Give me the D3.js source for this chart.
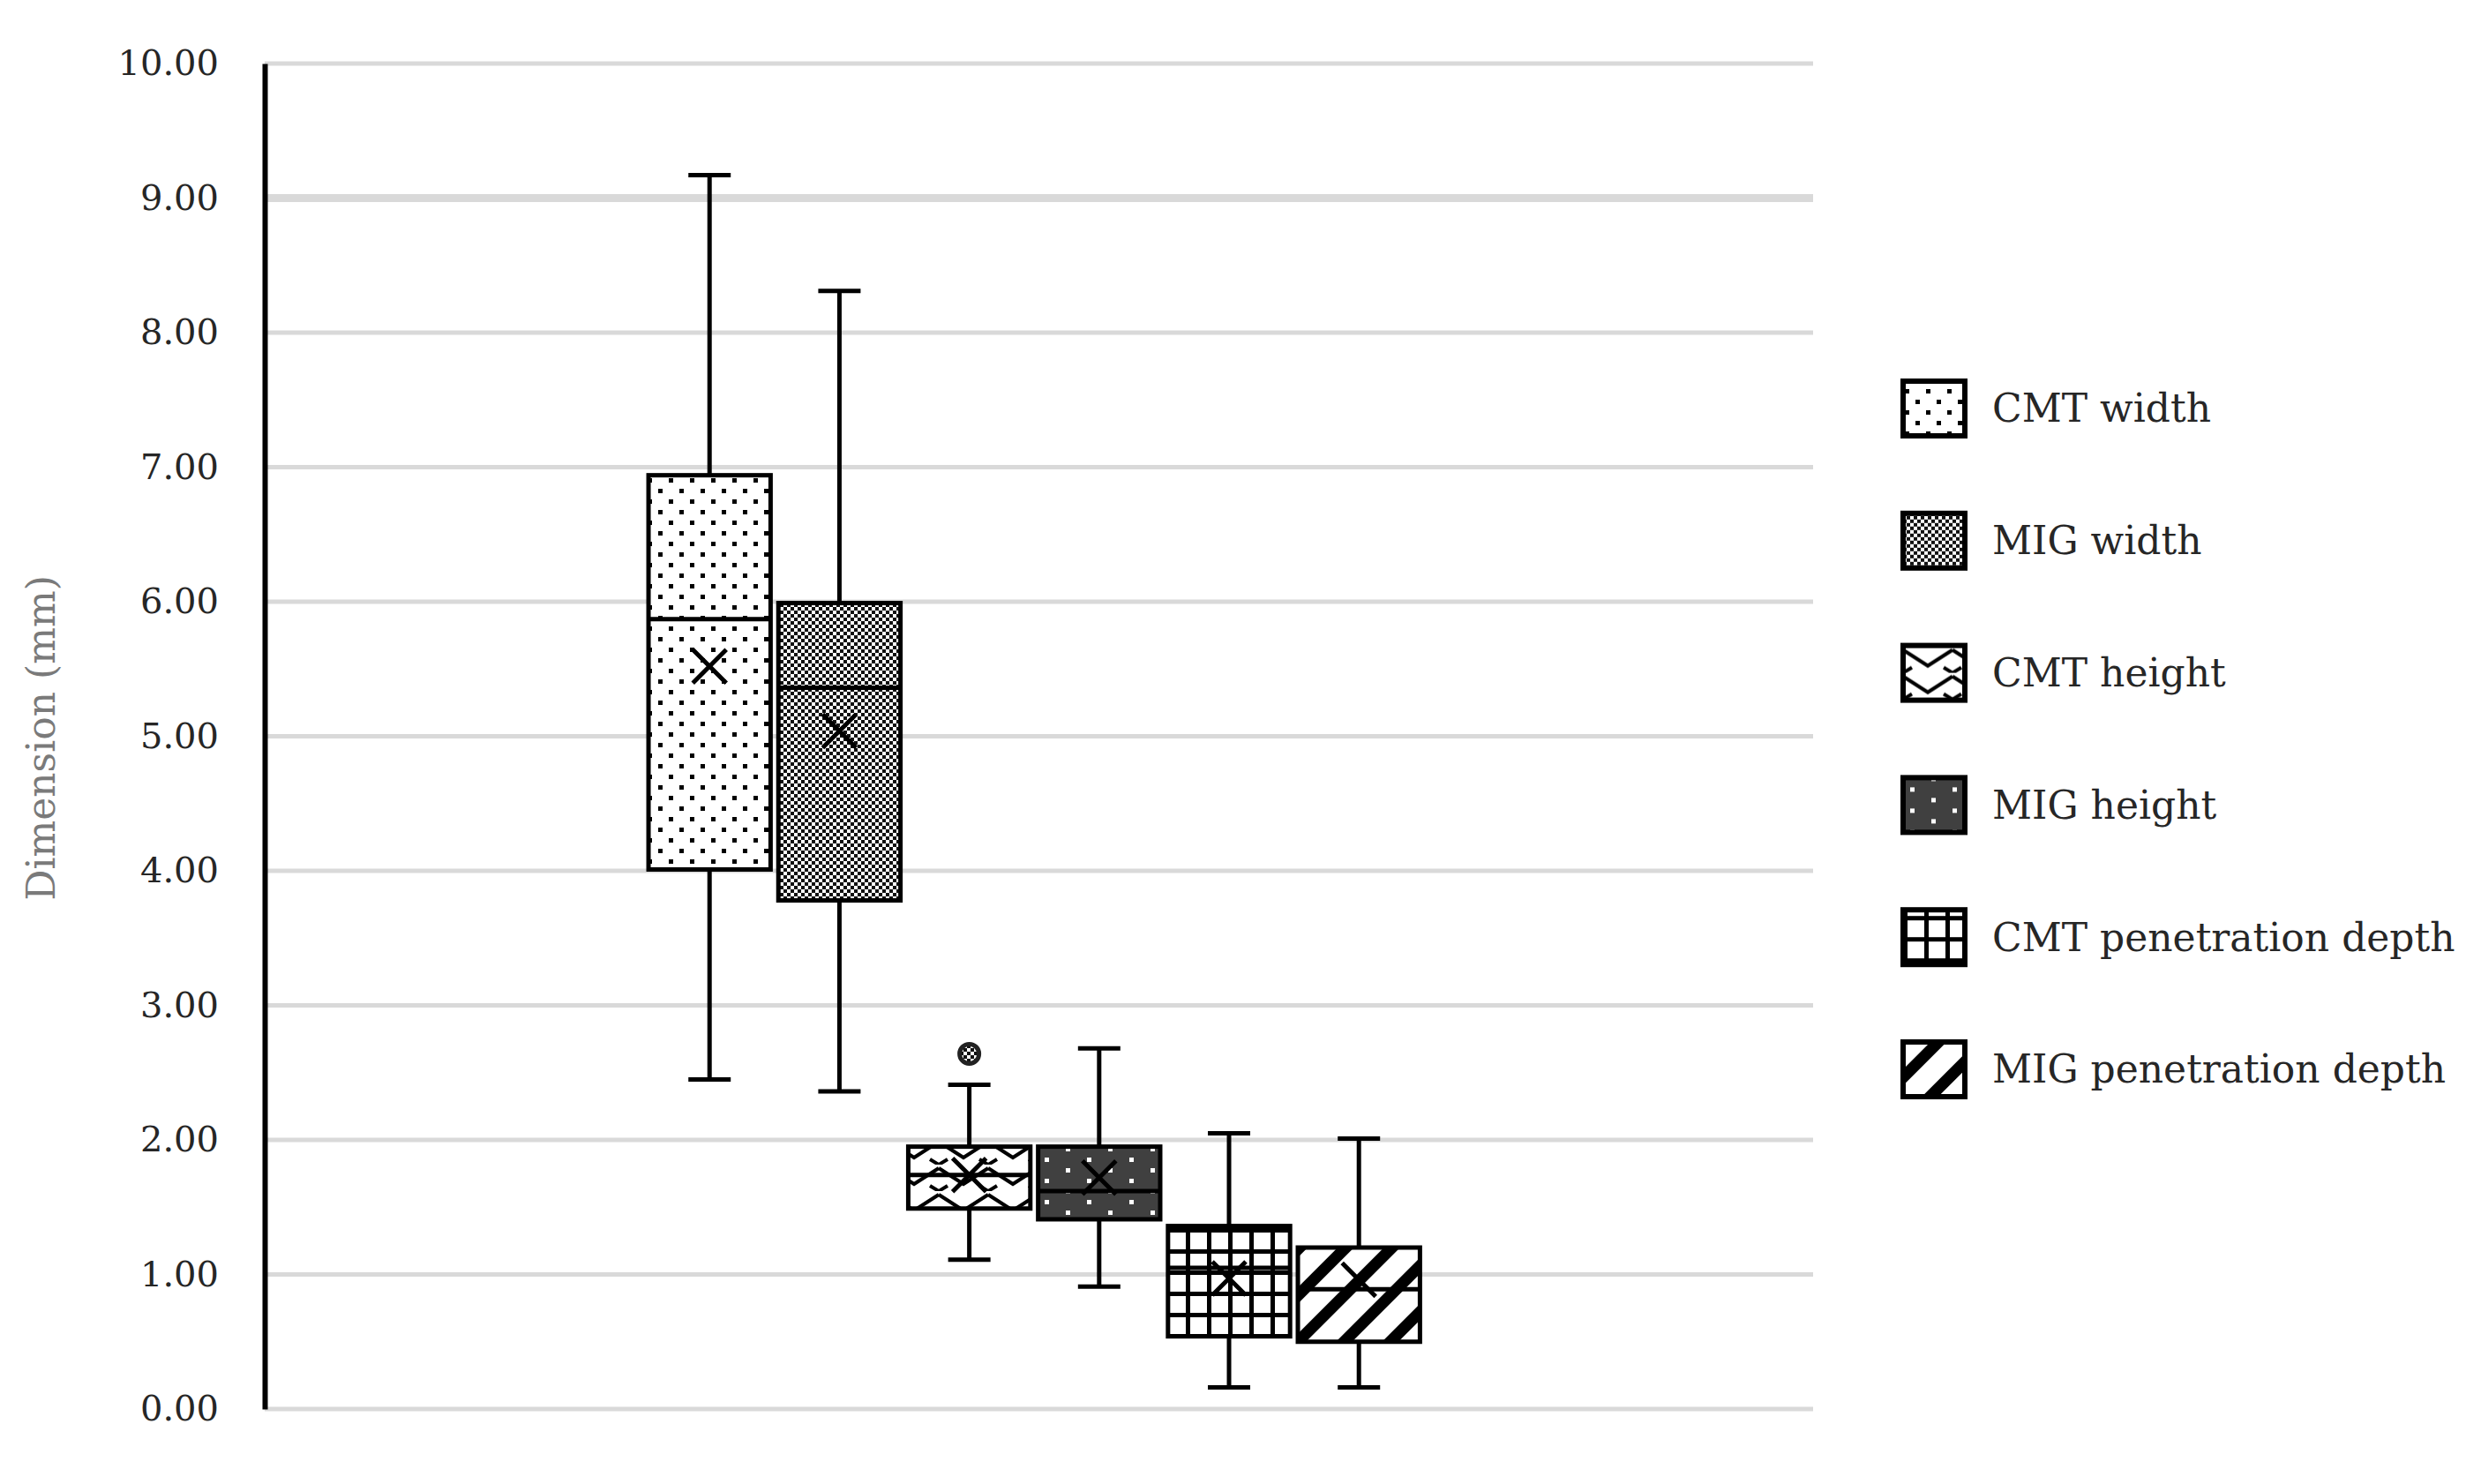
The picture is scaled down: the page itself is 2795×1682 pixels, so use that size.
<!DOCTYPE html>
<html>
<head>
<meta charset="utf-8">
<script src="https://cdn.jsdelivr.net/npm/d3@7"></script>
<style>
  html, body { margin: 0; padding: 0; background: #fff; }
  svg { display: block; }
</style>
</head>
<body>
<div id="chart"></div>
<script>
var w = 2795,
    h = 1682;

// data
var series = ["CMT width", "MIG width", "CMT height", "MIG height",
              "CMT penetration depth", "MIG penetration depth"];
var minVals    = [2.45, 2.36, 1.11, 0.91, 0.16, 0.16];
var q1Vals     = [4.01, 3.78, 1.49, 1.41, 0.54, 0.50];
var medianVals = [5.87, 5.36, 1.74, 1.62, 1.05, 0.89];
var q3Vals     = [6.94, 5.99, 1.95, 1.95, 1.36, 1.20];
var maxVals    = [9.17, 8.31, 2.41, 2.68, 2.05, 2.01];
var meanVals   = [5.52, 5.04, 1.74, 1.72, 0.97, 0.96];
var outliers   = [[], [], [2.64], [], [], []];
var yTicks     = [0, 1, 2, 3, 4, 5, 6, 7, 8, 9, 10];
var patterns   = ["pDots", "pChecker", "pZigzag", "pDarkDots", "pGrid", "pStripes"];

var svg = d3.select("#chart")
            .append("svg")
            .attr("width", w)
            .attr("height", h);

// --- fill patterns ---
var defs = svg.append("defs");

var p1 = defs.append("pattern").attr("id", "pDots")
             .attr("patternUnits", "userSpaceOnUse").attr("width", 24).attr("height", 24);
p1.append("rect").attr("width", 24).attr("height", 24).attr("fill", "#fff");
p1.append("rect").attr("x", 2).attr("y", 2).attr("width", 5).attr("height", 5).attr("fill", "#000");
p1.append("rect").attr("x", 14).attr("y", 14).attr("width", 5).attr("height", 5).attr("fill", "#000");

var p2 = defs.append("pattern").attr("id", "pChecker")
             .attr("patternUnits", "userSpaceOnUse").attr("width", 8).attr("height", 8);
p2.append("rect").attr("width", 8).attr("height", 8).attr("fill", "#fff");
p2.append("rect").attr("width", 4).attr("height", 4).attr("fill", "#111");
p2.append("rect").attr("x", 4).attr("y", 4).attr("width", 4).attr("height", 4).attr("fill", "#111");

var p3 = defs.append("pattern").attr("id", "pZigzag")
             .attr("patternUnits", "userSpaceOnUse").attr("width", 56).attr("height", 30);
p3.append("rect").attr("width", 56).attr("height", 30).attr("fill", "#fff");
p3.append("path").attr("d", "M0,4 L28,22 L56,4 M0,30 L10,24 M46,24 L56,30")
  .attr("fill", "none").attr("stroke", "#000").attr("stroke-width", 4);

var p4 = defs.append("pattern").attr("id", "pDarkDots")
             .attr("patternUnits", "userSpaceOnUse").attr("width", 48).attr("height", 24);
p4.append("rect").attr("width", 48).attr("height", 24).attr("fill", "#404040");
p4.append("rect").attr("x", 8).attr("y", 4).attr("width", 5).attr("height", 5).attr("fill", "#fff");
p4.append("rect").attr("x", 32).attr("y", 16).attr("width", 5).attr("height", 5).attr("fill", "#fff");

var p5 = defs.append("pattern").attr("id", "pGrid")
             .attr("patternUnits", "userSpaceOnUse").attr("width", 24).attr("height", 24);
p5.append("rect").attr("width", 24).attr("height", 24).attr("fill", "#fff");
p5.append("rect").attr("width", 5).attr("height", 24).attr("fill", "#000");
p5.append("rect").attr("width", 24).attr("height", 5).attr("fill", "#000");

var p6 = defs.append("pattern").attr("id", "pStripes")
             .attr("patternUnits", "userSpaceOnUse").attr("width", 37).attr("height", 37)
             .attr("patternTransform", "rotate(45)");
p6.append("rect").attr("width", 37).attr("height", 37).attr("fill", "#fff");
p6.append("rect").attr("width", 13).attr("height", 37).attr("fill", "#000");

// --- scales ---
var plotLeft = 300, plotRight = 2055, plotTop = 72, plotBottom = 1597;

var y = d3.scaleLinear()
          .domain([0, 10])
          .range([plotBottom, plotTop]);

var xGroup = d3.scaleBand()
               .domain(["all"])
               .range([plotLeft, plotRight])
               .paddingOuter(0.5036)
               .paddingInner(0)
               .align(0.494);

var x = d3.scaleBand()
          .domain(series)
          .range([xGroup("all"), xGroup("all") + xGroup.bandwidth()])
          .paddingInner(0.06)
          .paddingOuter(0);

// --- grid lines ---
svg.append("g")
   .selectAll("line")
   .data(yTicks)
   .enter().append("line")
   .attr("x1", plotLeft)
   .attr("x2", plotRight)
   .attr("y1", function(d) { return y(d); })
   .attr("y2", function(d) { return y(d); })
   .attr("stroke", "#d9d9d9")
   .attr("stroke-width", function(d) { return d === 9 ? 9 : 5; });

// --- y axis ---
var yAxis = svg.append("g")
               .attr("transform", "translate(" + plotLeft + ",0)")
               .call(d3.axisLeft(y)
                       .tickValues(yTicks)
                       .tickFormat(d3.format(".2f"))
                       .tickSize(0)
                       .tickPadding(52));
yAxis.select(".domain").attr("stroke", "#000").attr("stroke-width", 6);
yAxis.selectAll("text")
     .attr("font-family", "'DejaVu Serif', serif")
     .attr("font-size", "40px")
     .attr("fill", "#262626");

svg.append("text")
   .attr("transform", "translate(62," + ((plotTop + plotBottom) / 2 + 2) + ") rotate(-90)")
   .attr("text-anchor", "middle")
   .attr("font-family", "'DejaVu Serif', serif")
   .attr("font-size", "44px")
   .attr("fill", "#7a7a7a")
   .text("Dimension (mm)");

// --- box plots ---
var capW = 48;
var boxes = svg.append("g")
               .selectAll("g")
               .data(series)
               .enter().append("g");

// whiskers
boxes.append("line")
     .attr("x1", function(d) { return x(d) + x.bandwidth() / 2; })
     .attr("x2", function(d) { return x(d) + x.bandwidth() / 2; })
     .attr("y1", function(d, i) { return y(maxVals[i]); })
     .attr("y2", function(d, i) { return y(minVals[i]); })
     .attr("stroke", "#000")
     .attr("stroke-width", 5);

boxes.append("line")
     .attr("x1", function(d) { return x(d) + x.bandwidth() / 2 - capW / 2; })
     .attr("x2", function(d) { return x(d) + x.bandwidth() / 2 + capW / 2; })
     .attr("y1", function(d, i) { return y(maxVals[i]); })
     .attr("y2", function(d, i) { return y(maxVals[i]); })
     .attr("stroke", "#000")
     .attr("stroke-width", 5);

boxes.append("line")
     .attr("x1", function(d) { return x(d) + x.bandwidth() / 2 - capW / 2; })
     .attr("x2", function(d) { return x(d) + x.bandwidth() / 2 + capW / 2; })
     .attr("y1", function(d, i) { return y(minVals[i]); })
     .attr("y2", function(d, i) { return y(minVals[i]); })
     .attr("stroke", "#000")
     .attr("stroke-width", 5);

// boxes
boxes.append("rect")
     .attr("x", function(d) { return x(d); })
     .attr("y", function(d, i) { return y(q3Vals[i]); })
     .attr("width", x.bandwidth())
     .attr("height", function(d, i) { return y(q1Vals[i]) - y(q3Vals[i]); })
     .attr("fill", function(d, i) { return "url(#" + patterns[i] + ")"; })
     .attr("stroke", "#000")
     .attr("stroke-width", 5);

// medians
boxes.append("line")
     .attr("x1", function(d) { return x(d); })
     .attr("x2", function(d) { return x(d) + x.bandwidth(); })
     .attr("y1", function(d, i) { return y(medianVals[i]); })
     .attr("y2", function(d, i) { return y(medianVals[i]); })
     .attr("stroke", "#000")
     .attr("stroke-width", 5);

// mean markers (x)
var mk = 19;
boxes.append("path")
     .attr("d", function(d, i) {
        var cx = x(d) + x.bandwidth() / 2, cy = y(meanVals[i]);
        return "M" + (cx - mk) + "," + (cy - mk) + "L" + (cx + mk) + "," + (cy + mk) +
               "M" + (cx - mk) + "," + (cy + mk) + "L" + (cx + mk) + "," + (cy - mk);
     })
     .attr("stroke", "#000")
     .attr("stroke-width", 5)
     .attr("fill", "none");

// outliers
boxes.each(function(d, i) {
  d3.select(this).selectAll("circle")
    .data(outliers[i])
    .enter().append("circle")
    .attr("cx", x(d) + x.bandwidth() / 2)
    .attr("cy", function(v) { return y(v); })
    .attr("r", 11)
    .attr("fill", "url(#pChecker)")
    .attr("stroke", "#222")
    .attr("stroke-width", 5);
});

// --- legend ---
var legY = d3.scalePoint()
             .domain(series)
             .range([463, 1212]);

var legend = svg.append("g")
                .selectAll("g")
                .data(series)
                .enter().append("g")
                .attr("transform", function(d) { return "translate(2157," + legY(d) + ")"; });

legend.append("rect")
      .attr("x", 0)
      .attr("y", -31)
      .attr("width", 70)
      .attr("height", 62)
      .attr("fill", function(d, i) { return "url(#" + patterns[i] + ")"; })
      .attr("stroke", "#000")
      .attr("stroke-width", 6);

legend.append("text")
      .attr("x", 101)
      .attr("y", 0)
      .attr("dy", "0.35em")
      .attr("font-family", "'DejaVu Serif', serif")
      .attr("font-size", "44px")
      .attr("fill", "#262626")
      .text(function(d) { return d; });
</script>
</body>
</html>
